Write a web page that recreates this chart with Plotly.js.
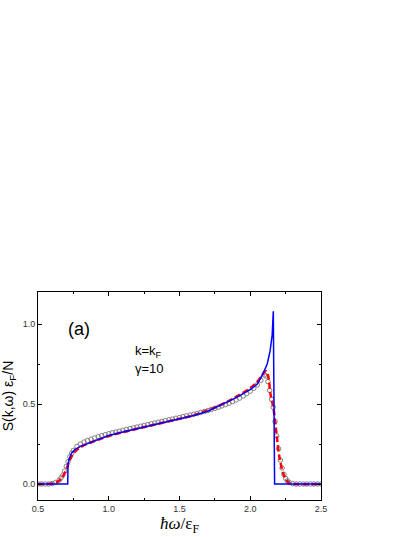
<!DOCTYPE html>
<html>
<head>
<meta charset="utf-8">
<script src="https://cdn.plot.ly/plotly-3.0.1.min.js"></script>
<style>
html, body { margin: 0; padding: 0; background: #fff; }
#plot { width: 415px; height: 537px; }
</style>
</head>
<body>
<div id="plot"></div>
<script>
// solid blue curve
var blue_x = [0.5, 0.71, 0.712, 0.72, 0.735, 0.76, 0.8, 0.85, 0.9, 0.95, 1.0, 1.1, 1.2, 1.3, 1.4, 1.5, 1.6, 1.7, 1.8, 1.9, 2.0, 2.05, 2.09, 2.12, 2.14, 2.155, 2.163, 2.172, 2.5];
var blue_y = [0, 0, 0.125, 0.155, 0.19, 0.215, 0.235, 0.252, 0.268, 0.285, 0.303, 0.325, 0.345, 0.365, 0.385, 0.405, 0.428, 0.455, 0.495, 0.54, 0.59, 0.625, 0.69, 0.75, 0.83, 0.93, 1.08, 0, 0];

// red dashed curve
var red_x = [0.5, 0.6, 0.64, 0.67, 0.7, 0.72, 0.75, 0.8, 0.9, 1.0, 1.2, 1.4, 1.6, 1.8, 1.9, 2.0, 2.05, 2.08, 2.1, 2.115, 2.13, 2.14, 2.15, 2.163, 2.186, 2.21, 2.245, 2.28, 2.3, 2.5];
var red_y = [0, 0.003, 0.015, 0.04, 0.09, 0.14, 0.19, 0.23, 0.268, 0.3, 0.345, 0.387, 0.43, 0.498, 0.545, 0.6, 0.64, 0.675, 0.7, 0.705, 0.66, 0.58, 0.53, 0.48, 0.31, 0.15, 0.04, 0.003, 0, 0];

// open circles
var circ_x = [0.5, 0.525, 0.55, 0.575, 0.6, 0.625, 0.65, 0.6625, 0.675, 0.6875, 0.7, 0.7125, 0.725, 0.7375, 0.75, 0.775, 0.8, 0.825, 0.85, 0.875, 0.9, 0.925, 0.95, 0.975,
  1.0, 1.025, 1.05, 1.075, 1.1, 1.125, 1.15, 1.175, 1.2, 1.225, 1.25, 1.275, 1.3, 1.325, 1.35, 1.375, 1.4, 1.425, 1.45, 1.475,
  1.5, 1.525, 1.55, 1.575, 1.6, 1.625, 1.65, 1.675, 1.7, 1.725, 1.75, 1.775, 1.8, 1.825, 1.85, 1.875, 1.9, 1.925, 1.95, 1.975,
  2.0, 2.025, 2.05, 2.075, 2.1, 2.1125, 2.125, 2.1375, 2.15, 2.1625, 2.175, 2.1875, 2.2, 2.2125, 2.225, 2.2375, 2.25, 2.2625, 2.275, 2.3, 2.325, 2.35, 2.375, 2.4, 2.425, 2.45, 2.475, 2.5];
var circ_y = [0, 0, 0, 0, 0.003, 0.01, 0.025, 0.038, 0.055, 0.08, 0.11, 0.14, 0.17, 0.192, 0.21, 0.235, 0.25, 0.262, 0.272, 0.28, 0.288, 0.295, 0.302, 0.308,
  0.314, 0.32, 0.325, 0.33, 0.336, 0.341, 0.346, 0.351, 0.356, 0.361, 0.366, 0.371, 0.376, 0.381, 0.386, 0.391, 0.396, 0.401, 0.406, 0.411,
  0.416, 0.421, 0.426, 0.431, 0.436, 0.441, 0.447, 0.453, 0.459, 0.466, 0.473, 0.48, 0.488, 0.496, 0.505, 0.515, 0.525, 0.537, 0.55, 0.564,
  0.58, 0.598, 0.62, 0.648, 0.68, 0.675, 0.64, 0.585, 0.53, 0.48, 0.39, 0.3, 0.22, 0.15, 0.1, 0.06, 0.035, 0.02, 0.01, 0.002, 0, 0, 0, 0, 0, 0, 0, 0];

var x_ticks = [0.5, 1.0, 1.5, 2.0, 2.5];
var x_labels = ["0.5", "1.0", "1.5", "2.0", "2.5"];
var y_ticks = [0.0, 0.5, 1.0];
var y_labels = ["0.0", "0.5", "1.0"];

var tickfont = { family: "Arial, Liberation Sans, sans-serif", size: 9, color: "#333" };

var circles = {
	mode: "markers",
	x: circ_x,
	y: circ_y,
	marker: {
		symbol: "circle-open",
		size: 4.5,
		color: "#808080",
		line: { width: 1, color: "#808080" }
	}
};

var red = {
	mode: "lines",
	x: red_x,
	y: red_y,
	line: {
		shape: "spline",
		color: "#ff0000",
		width: 2.5,
		dash: "6px,3px"
	}
};

var blue = {
	mode: "lines",
	x: blue_x,
	y: blue_y,
	line: {
		color: "#0000ff",
		width: 1.5
	}
};

var axis_common = {
	showline: true,
	linecolor: "#000",
	linewidth: 1,
	mirror: "ticks",
	ticks: "inside",
	ticklen: 4,
	tickcolor: "#000",
	showgrid: false,
	zeroline: false,
	tickfont: tickfont
};

var layout = {
	width: 415,
	height: 537,
	paper_bgcolor: "#fff",
	plot_bgcolor: "#fff",
	showlegend: false,
	margin: { l: 38, r: 94, t: 292, b: 37, pad: 0 },
	xaxis: Object.assign({}, axis_common, {
		range: [0.5, 2.5],
		tickvals: x_ticks,
		ticktext: x_labels,
		minor: { ticks: "inside", ticklen: 2, dtick: 0.25, tick0: 0.5, tickcolor: "#000" },
		title: {
			text: "<i>ħω</i>/ε<sub>F</sub>",
			font: { family: "Liberation Serif, serif", size: 17, color: "#000" },
			standoff: 4
		}
	}),
	yaxis: Object.assign({}, axis_common, {
		range: [-0.1, 1.2],
		tickvals: y_ticks,
		ticktext: y_labels,
		minor: { ticks: "inside", ticklen: 2, dtick: 0.25, tick0: 0, tickcolor: "#000" },
		title: {
			text: "S(k,ω) ε<sub>F</sub>/N",
			font: { family: "Arial, Liberation Sans, sans-serif", size: 14, color: "#000" },
			standoff: 6
		}
	}),
	annotations: [
		{ xref: "paper", yref: "paper", x: 0.099, y: 0.88, text: "(a)", showarrow: false,
		  font: { family: "Arial, Liberation Sans, sans-serif", size: 18, color: "#000" } },
		{ x: 1.28, y: 0.83, text: "k=k<sub>F</sub>", showarrow: false,
		  font: { family: "Arial, Liberation Sans, sans-serif", size: 13, color: "#000" } },
		{ x: 1.29, y: 0.72, text: "γ=10", showarrow: false,
		  font: { family: "Arial, Liberation Sans, sans-serif", size: 13, color: "#000" } }
	]
};

Plotly.newPlot("plot", [circles, red, blue], layout, { displayModeBar: false, staticPlot: true });
</script>
</body>
</html>
